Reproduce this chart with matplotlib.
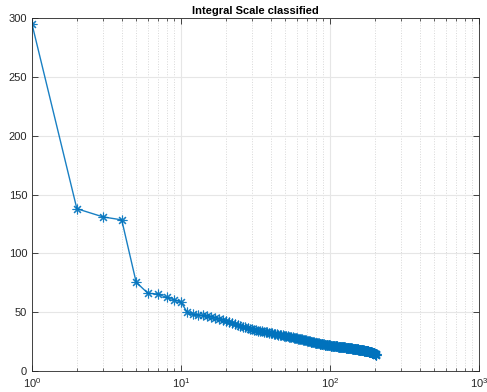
import matplotlib
matplotlib.use('Agg')
import matplotlib.pyplot as plt
import numpy as np

# integral scale values, sorted
scale = [
    295, 138, 131, 128.5, 75.5, 66, 65.5, 62.5, 60.5, 58.5,
    50, 48.2, 47.6, 47.2, 46.8, 46.2, 45.3, 44.5, 43.7, 42.9,
    41.9, 41.0, 40.1, 39.3, 38.5, 37.8, 37.2, 36.6, 36.1, 35.6,
    35.2, 34.8, 34.4, 34.1, 33.8, 33.5, 33.2, 32.9, 32.6, 32.3,
    32.0, 31.7, 31.4, 31.2, 30.9, 30.7, 30.4, 30.2, 30.0, 29.8,
    29.6, 29.4, 29.2, 29.0, 28.8, 28.6, 28.4, 28.2, 28.0, 27.8,
    27.6, 27.4, 27.2, 27.0, 26.8, 26.6, 26.4, 26.2, 26.0, 25.8,
    25.6, 25.4, 25.2, 25.0, 24.8, 24.6, 24.4, 24.3, 24.1, 24.0,
    23.8, 23.7, 23.5, 23.4, 23.3, 23.1, 23.0, 22.9, 22.8, 22.7,
    22.6, 22.5, 22.4, 22.3, 22.2, 22.1, 22.0, 21.9, 21.8, 21.7,
    21.6, 21.55, 21.5, 21.4, 21.35, 21.3, 21.2, 21.15, 21.1, 21.0,
    20.95, 20.9, 20.8, 20.75, 20.7, 20.6, 20.55, 20.5, 20.4, 20.35,
    20.3, 20.25, 20.2, 20.1, 20.05, 20.0, 19.95, 19.9, 19.8, 19.75,
    19.7, 19.65, 19.6, 19.5, 19.45, 19.4, 19.35, 19.3, 19.2, 19.15,
    19.1, 19.05, 19.0, 18.9, 18.85, 18.8, 18.75, 18.7, 18.6, 18.55,
    18.5, 18.45, 18.4, 18.3, 18.25, 18.2, 18.15, 18.1, 18.0, 17.95,
    17.9, 17.85, 17.8, 17.7, 17.65, 17.6, 17.55, 17.5, 17.4, 17.35,
    17.3, 17.25, 17.2, 17.1, 17.05, 17.0, 16.9, 16.85, 16.8, 16.7,
    16.6, 16.55, 16.5, 16.4, 16.3, 16.2, 16.1, 16.0, 15.9, 15.8,
    15.7, 15.6, 15.5, 15.4, 15.3, 15.2, 15.1, 14.95, 14.8, 14.65,
    14.5, 14.3, 14.1, 13.8, 13.4,
]
idx = np.arange(1, len(scale) + 1)

plt.rcParams['font.family'] = ['Liberation Sans', 'DejaVu Sans']
axcol = '#262626'

fig = plt.figure(figsize=(4.87, 3.92), dpi=100)
ax = fig.add_axes([0.0657, 0.0536, 0.918, 0.9])

# matlab style asterisk marker (8 spokes)
ax.semilogx(idx, scale, '-', color='#0072BD', lw=1,
            marker=(8, 2, 0), ms=7, mew=0.8, alpha=0.9)
ax.set_xlim(1, 1000)
ax.set_ylim(0, 300)
ax.set_yticks(np.arange(0, 301, 50))
ax.set_title('Integral Scale classified', fontsize=8, fontweight='bold', pad=3)

ax.grid(True, which='major', color='#e6e6e6', lw=0.8, ls='-')
ax.grid(True, which='minor', axis='x', color='#d8d8d8', lw=0.7, ls=':')
ax.set_axisbelow(True)
ax.tick_params(which='both', direction='in', top=True, right=True,
               colors=axcol, labelsize=8)
ax.tick_params(which='major', length=4, width=0.6)
ax.tick_params(which='minor', length=2, width=0.5)
for s in ax.spines.values():
    s.set_color(axcol)
    s.set_linewidth(0.6)

fig.savefig('out.png', dpi=100)
